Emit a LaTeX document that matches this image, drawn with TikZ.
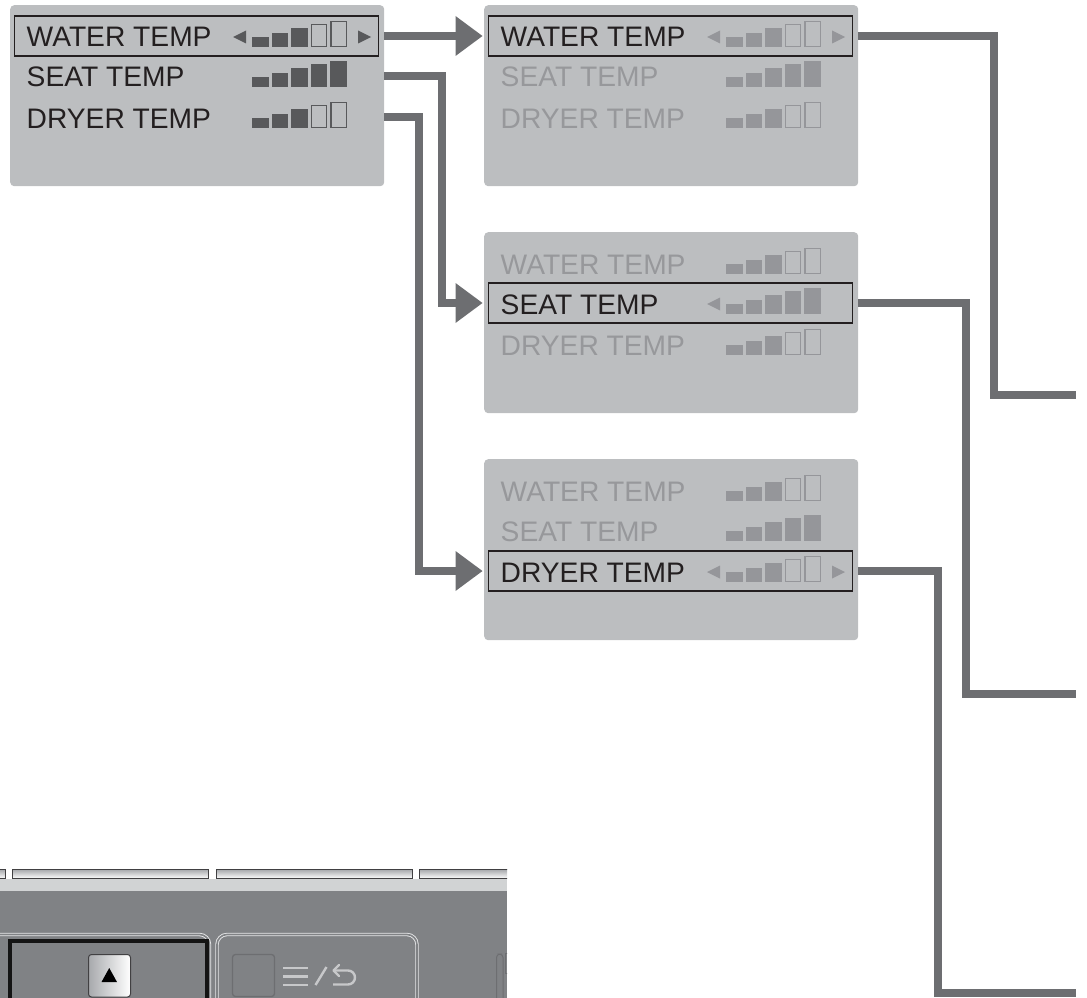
\documentclass[tikz,border=0pt]{standalone}
\usepackage{fontspec}
\setmainfont{Liberation Sans}
\usetikzlibrary{arrows.meta}
\definecolor{panelc}{HTML}{BCBEC0}
\definecolor{textdark}{HTML}{231F20}
\definecolor{textlight}{HTML}{97989B}
\definecolor{bardark}{HTML}{58595B}
\definecolor{barlight}{HTML}{95969A}
\definecolor{connc}{HTML}{6D6E71}
\definecolor{basec}{HTML}{808285}
\definecolor{bandc}{HTML}{D1D3D4}
\definecolor{keyline}{HTML}{414042}
\definecolor{keyg}{HTML}{A7A9AC}
\definecolor{dbl}{HTML}{E6E7E8}
\definecolor{iconc}{HTML}{C7C8CA}
\tikzset{
 panel/.style={fill=panelc, rounded corners=4pt, minimum width=374pt, minimum height=181pt, inner sep=0pt, anchor=north west},
 hlbox/.style={draw=textdark, line width=1.4pt, minimum width=364pt, minimum height=40pt, inner sep=0pt},
 rowtext/.style={font=\fontsize{28.2pt}{30pt}\selectfont, inner sep=0pt, anchor=base west},
 conn/.style={draw=connc, line width=7.5pt},
 connarrow/.style={conn, -{Triangle[length=27pt,width=40pt,line width=0pt]}, shorten >=1.5pt},
 dblline/.style={draw=dbl, double=basec, double distance=1.6pt, line width=0.9pt, rounded corners=10pt},
 icon/.style={draw=iconc, line width=2.4pt},
}
% #1 name, #2 panel x, #3 baseline, #4 label, #5 text colour, #6 bar colour, #7 filled bars, #8 arrows (0,1,2)
\newcommand{\rowline}[8]{%
  \node[rowtext,text=#5] (#1) at (#2+16.5,#3) {#4};
  \foreach \i/\h in {0/10,1/14,2/19,3/23,4/26}{%
    \pgfmathsetmacro{\xl}{#2+242+\i*19.6}%
    \ifnum\i<#7\relax
      \fill[#6] (\xl,#3) rectangle ++(16.5,-\h);%
    \else
      \draw[#6,line width=1.3pt] (\xl+0.65,#3-0.65) rectangle (\xl+15.85,#3-\h+0.65);%
    \fi}%
  \ifnum#8>0\relax \fill[#6] (#2+223,#3-10) -- (#2+236,#3-16.5) -- (#2+236,#3-3.5) -- cycle;\fi
  \ifnum#8>1\relax \fill[#6] (#2+361,#3-10) -- (#2+348,#3-16.5) -- (#2+348,#3-3.5) -- cycle;\fi
}
\begin{document}
\begin{tikzpicture}[x=1pt,y=-1pt]
\useasboundingbox (0,0) rectangle (1087,998);

% panel 1
\node[panel] (p1) at (10,5) {};
\node[hlbox] (p1box) at (196.5,36) {};
\rowline{p1w}{10}{47}{WATER TEMP}{textdark}{bardark}{3}{2}
\rowline{p1s}{10}{87}{SEAT TEMP}{textdark}{bardark}{5}{0}
\rowline{p1d}{10}{128}{DRYER TEMP}{textdark}{bardark}{3}{0}

% panel 2
\node[panel] (p2) at (484,5) {};
\node[hlbox] (p2box) at (670.5,36) {};
\rowline{p2w}{484}{47}{WATER TEMP}{textdark}{barlight}{3}{2}
\rowline{p2s}{484}{87}{SEAT TEMP}{textlight}{barlight}{5}{0}
\rowline{p2d}{484}{128}{DRYER TEMP}{textlight}{barlight}{3}{0}

% panel 3
\node[panel] (p3) at (484,232) {};
\node[hlbox] (p3box) at (670.5,303) {};
\rowline{p3w}{484}{274}{WATER TEMP}{textlight}{barlight}{3}{0}
\rowline{p3s}{484}{314}{SEAT TEMP}{textdark}{barlight}{5}{1}
\rowline{p3d}{484}{355}{DRYER TEMP}{textlight}{barlight}{3}{0}

% panel 4
\node[panel] (p4) at (484,459) {};
\node[hlbox] (p4box) at (670.5,571) {};
\rowline{p4w}{484}{501}{WATER TEMP}{textlight}{barlight}{3}{0}
\rowline{p4s}{484}{541}{SEAT TEMP}{textlight}{barlight}{5}{0}
\rowline{p4d}{484}{582}{DRYER TEMP}{textdark}{barlight}{3}{2}

% connector coordinates
\coordinate (p1r2) at (384,76);
\coordinate (p1r3) at (384,117);
\coordinate (j2) at (442,303);
\coordinate (j3) at (419,571);
\coordinate (j4) at (994,395);
\coordinate (j5) at (966,694);
\coordinate (j6) at (938,993);
\coordinate (e4) at (1076,395);
\coordinate (e5) at (1076,694);
\coordinate (e6) at (1076,993);

\draw[connarrow] (p1.east |- p1box) -- (p2.west |- p2box);
\draw[connarrow] (p1r2) -| (j2) -- (p3.west |- p3box);
\draw[connarrow] (p1r3) -| (j3) -- (p4.west |- p4box);
\draw[conn] (p2.east |- p2box) -| (j4) -- (e4);
\draw[conn] (p3.east |- p3box) -| (j5) -- (e5);
\draw[conn] (p4.east |- p4box) -| (j6) -- (e6);

% bottom control panel
\begin{scope}
\clip (0,860) rectangle (507,998);
\fill[bandc] (0,879) rectangle (507,891);
\fill[basec] (0,891) rectangle (507,998);
\foreach \a/\b in {-10/6,12/209,216/413,419/520}{
  \draw[keyline, line width=1.2pt, top color=keyg, bottom color=white] (\a+0.5,869.5) rectangle (\b-0.5,878.5);
}
\draw[dblline] (-20,934.5) rectangle (209.5,1020);
\draw[line width=4pt, black!92] (9.5,941) rectangle (207,1020);
\draw[keyline, line width=1pt, rounded corners=3pt, left color=keyg, right color=white] (88.5,954.5) rectangle (130.5,997);
\fill[black] (101.5,982) -- (117,982) -- (109.25,968) -- cycle;
\draw[dblline] (217,934.5) rectangle (417,1020);
\draw[connc, line width=1.3pt, rounded corners=3pt] (232.5,954.5) rectangle (274.5,996.5);
\draw[icon] (283,968) -- (308,968) (283,976.5) -- (308,976.5) (283,985) -- (308,985);
\draw[icon] (315.5,985) -- (326.5,967);
\draw[icon] (335,970.5) -- (348,970.5) arc[start angle=-90, end angle=90, radius=7] -- (333,984.5);
\draw[icon, line cap=round, line join=round] (339,965) -- (333.5,970.5) -- (339,976);
\draw[connc, line width=1pt, rounded corners=3.5pt] (496.5,1020) -- (496.5,954) -- (503,954) -- (503,1020);
\draw[connc, line width=1pt] (509,953.5) -- (505,953.5) -- (505,973) -- (509,973);
\end{scope}
\end{tikzpicture}
\end{document}
